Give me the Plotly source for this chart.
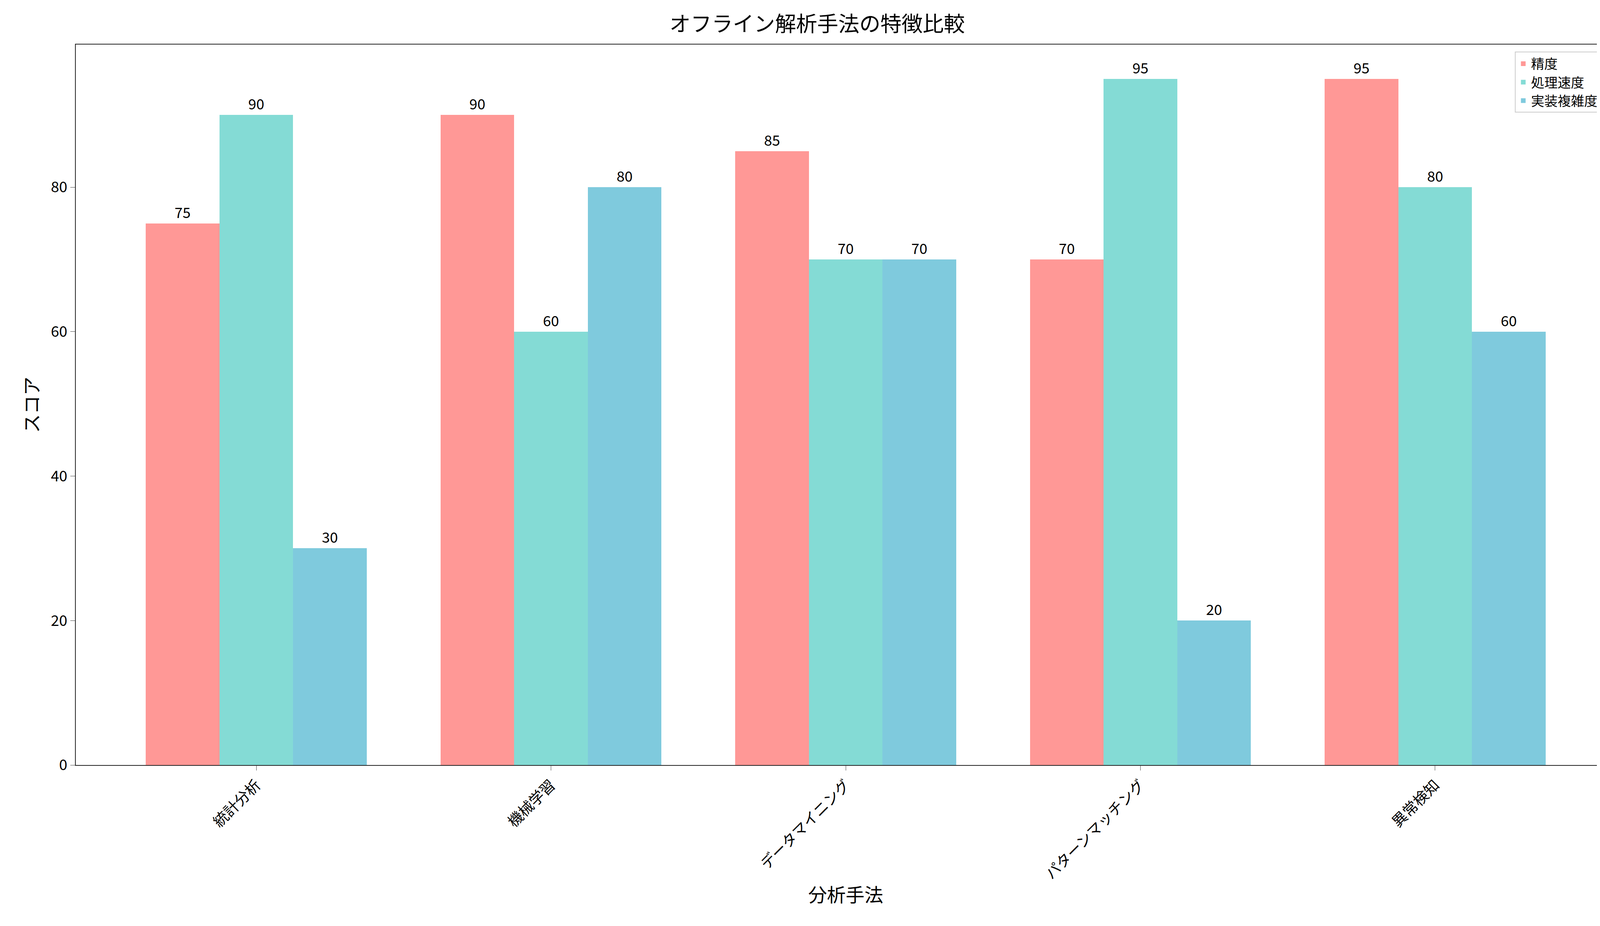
import plotly.graph_objects as go

methods = ["統計分析", "機械学習", "データマイニング", "パターンマッチング", "異常検知"]
accuracy = [75, 90, 85, 70, 95]
speed = [90, 60, 70, 95, 80]
complexity = [30, 80, 70, 20, 60]

series = [("精度", accuracy, "#FF9896"), ("処理速度", speed, "#84DBD5"), ("実装複雑度", complexity, "#7FCADD")]
font = "Noto Sans CJK JP"
x = list(range(len(methods)))

fig = go.Figure()
for i, (name, vals, col) in enumerate(series):
    fig.add_trace(go.Bar(
        x=[v + (i - 1) * 0.25 for v in x], y=vals, width=0.25, name=name,
        marker=dict(color=col, line=dict(width=0)),
        text=[str(v) for v in vals], textposition="outside", cliponaxis=False,
        textfont=dict(size=37, color="black", family=font),
    ))

fig.update_layout(
    width=4168, height=2370, template="simple_white",
    font=dict(family=font, size=38, color="black"),
    title=dict(text="オフライン解析手法の特徴比較", x=0.5, xanchor="center", y=0.985, font=dict(size=54)),
    margin=dict(l=186, r=40, t=106, b=420),
    bargap=0, barmode="overlay",
    legend=dict(x=0.99, y=0.99, xanchor="right", yanchor="top", bordercolor="#cccccc",
                borderwidth=2, font=dict(size=34), bgcolor="rgba(255,255,255,0.8)"),
    xaxis=dict(tickvals=x, ticktext=methods, tickangle=-45, range=[-0.6125, 4.6125],
               showline=True, mirror=True, linewidth=2, ticks="outside", ticklen=12,
               title=dict(text="分析手法", font=dict(size=48))),
    yaxis=dict(range=[0, 99.75], tickvals=[0, 20, 40, 60, 80], showline=True, mirror=True,
               linewidth=2, ticks="outside", ticklen=12,
               title=dict(text="スコア", font=dict(size=48))),
)
fig.write_html("out.html")
